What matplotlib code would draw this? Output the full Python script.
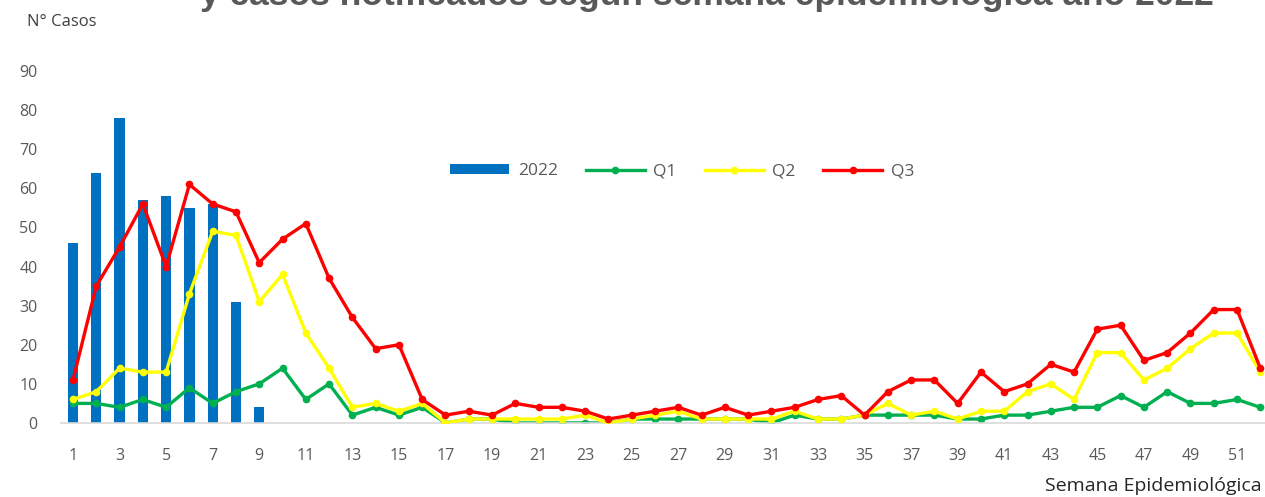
import numpy as np
import matplotlib.pyplot as plt

plt.rcParams["font.family"] = ["Open Sans", "DejaVu Sans"]

color_bar = "#0070c0"
color_q1 = "#00b050"
color_q2 = "#ffff00"
color_q3 = "#ff0000"
color_txt = "#595959"

weeks = np.arange(1, 53)
weeks_2022 = np.arange(1, 10)
cases_2022 = [46, 64, 78, 57, 58, 55, 56, 31, 4]

q1 = [5, 5, 4, 6, 4, 9, 5, 8, 10, 14, 6, 10, 2, 4, 2, 4, 0, 1, 1, 0,
      0, 0, 0, 0, 1, 1, 1, 1, 1, 1, 0, 2, 1, 1, 2, 2, 2, 2, 1, 1,
      2, 2, 3, 4, 4, 7, 4, 8, 5, 5, 6, 4]
q2 = [6, 8, 14, 13, 13, 33, 49, 48, 31, 38, 23, 14, 4, 5, 3, 5, 0, 1, 1, 1,
      1, 1, 2, 0, 1, 2, 3, 1, 1, 1, 1, 3, 1, 1, 2, 5, 2, 3, 1, 3,
      3, 8, 10, 6, 18, 18, 11, 14, 19, 23, 23, 13]
q3 = [11, 35, 45, 56, 40, 61, 56, 54, 41, 47, 51, 37, 27, 19, 20, 6, 2, 3, 2, 5,
      4, 4, 3, 1, 2, 3, 4, 2, 4, 2, 3, 4, 6, 7, 2, 8, 11, 11, 5, 13,
      8, 10, 15, 13, 24, 25, 16, 18, 23, 29, 29, 14]

fig = plt.figure(figsize=(12.65, 4.97), dpi=100)
ax = fig.add_axes([0.0485, 0.149, 0.957, 0.708])

ax.bar(weeks_2022, cases_2022, width=0.44, color=color_bar, label="2022", zorder=1)
ax.plot(weeks, q1, color=color_q1, lw=2.4, marker="o", ms=4.5, label="Q1", zorder=2)
ax.plot(weeks, q2, color=color_q2, lw=2.4, marker="o", ms=4.5, label="Q2", zorder=3)
ax.plot(weeks, q3, color=color_q3, lw=2.4, marker="o", ms=4.5, label="Q3", zorder=4)

ax.set_xlim(0.5, 52.5)
ax.set_ylim(0, 90)
ax.set_yticks(range(0, 100, 10))
ax.set_xticks(range(1, 53, 2))
ax.tick_params(axis="both", length=0, labelsize=11.5, colors=color_txt)
ax.tick_params(axis="x", pad=18)
ax.tick_params(axis="y", pad=17)
for s in ["top", "right", "left"]:
    ax.spines[s].set_visible(False)
ax.spines["bottom"].set_color("#d9d9d9")
ax.spines["bottom"].set_linewidth(1.2)

handles, labels = ax.get_legend_handles_labels()
order = [3, 0, 1, 2]
leg = ax.legend([handles[i] for i in order], [labels[i] for i in order],
                loc="center", bbox_to_anchor=(0.513, 0.715), ncol=4, frameon=False,
                fontsize=12.5, handlelength=3.4, handleheight=0.5,
                columnspacing=1.6, handletextpad=0.5)
for t in leg.get_texts():
    t.set_color(color_txt)

fig.text(0.021, 1 - 22 / 497, "N° Casos", fontsize=12, color="#404040", va="center")
fig.text(0.997, 1 - 486 / 497, "Semana Epidemiológica", fontsize=14, color="#262626",
         va="center", ha="right")
fig.text(0.559, 1 - 5 / 497, "y casos notificados según semana epidemiológica año 2022",
         fontsize=25.5, fontweight="bold", color="#595959", ha="center", va="baseline",
         family="Liberation Sans")

fig.savefig("out.png", dpi=100)
